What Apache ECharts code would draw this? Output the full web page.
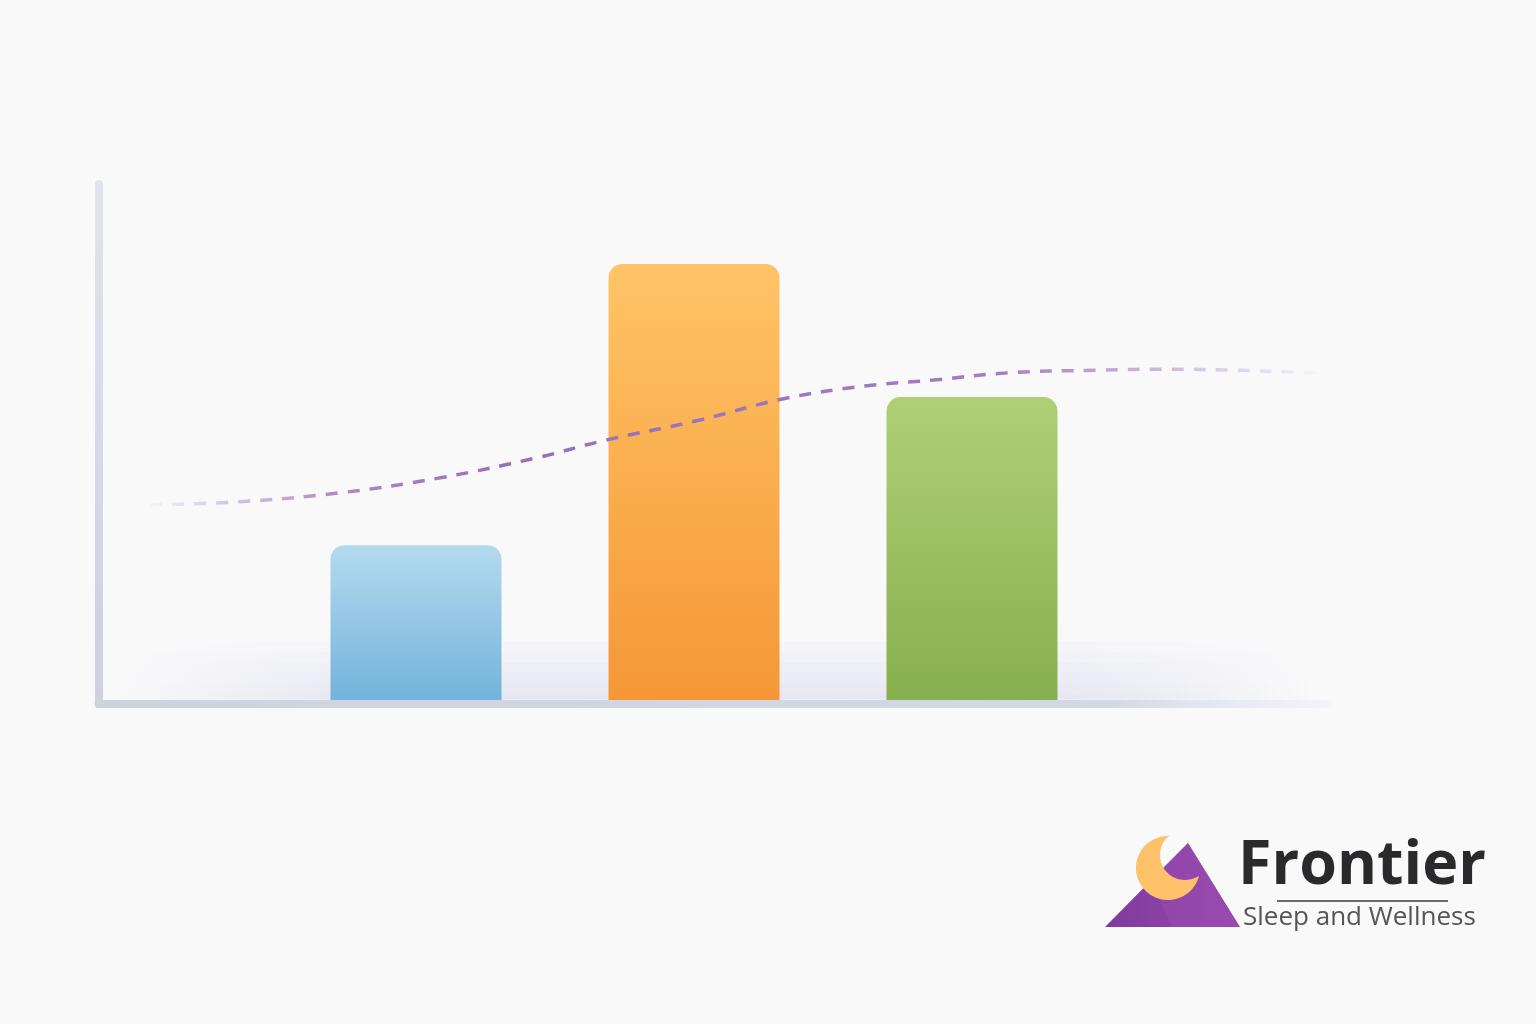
<!DOCTYPE html>
<html>
<head>
<meta charset="utf-8">
<script src="https://cdn.jsdelivr.net/npm/echarts@6/dist/echarts.min.js"></script>
<style>
html,body{margin:0;padding:0;background:#f9f9fa;}
#chart{width:1536px;height:1024px;}
</style>
</head>
<body>
<div id="chart"></div>
<script>
// ---- data ----
const categories = ['A', 'B', 'C'];
const barValues = [30, 84.5, 58.7];
const barTopColors = ['#b3daef', '#ffc466', '#afd074'];
const barBottomColors = ['#74b3db', '#f59737', '#86b04d'];
const trendX = [4.2, 11.5, 19.6, 27.8, 35.9, 41.0, 48.9, 55.7, 62.5, 67.9, 74.1, 81.5, 86.9, 92.3, 97.7, 99.6];
const trendY = [38.3, 38.9, 40.6, 43.5, 47.5, 50.6, 54.6, 58.7, 61.2, 62.3, 63.7, 64.2, 64.4, 64.2, 63.8, 63.7];
const glowTops = [2, 4, 6, 8, 10, 12];
const brandName = 'Frontier';
const brandTagline = 'Sleep and Wellness';

const chart = echarts.init(document.getElementById('chart'));

const barData = barValues.map((v, i) => ({
  value: v,
  itemStyle: {
    color: {
      type: 'linear', x: 0, y: 0, x2: 0, y2: 1,
      colorStops: [{offset: 0, color: barTopColors[i]}, {offset: 1, color: barBottomColors[i]}]
    }
  }
}));
const trendData = trendX.map((x, i) => [x, trendY[i]]);
const glowAreas = glowTops.map(t => [{xAxis: 1, yAxis: 0.8}, {xAxis: 99, yAxis: t}]);

// crescent moon outline for the logo (outer circle minus inner circle)
function crescent() {
  const pts = [];
  const c1 = [1168, 868], r1 = 32, c2 = [1185, 855], r2 = 25;
  const toRad = Math.PI / 180;
  for (let a = 269; a >= 17.5; a -= 4) pts.push([c1[0] + r1 * Math.cos(a * toRad), c1[1] + r1 * Math.sin(a * toRad)]);
  pts.push([c1[0] + r1 * Math.cos(17.5 * toRad), c1[1] + r1 * Math.sin(17.5 * toRad)]);
  for (let a = 56; a <= 232; a += 4) pts.push([c2[0] + r2 * Math.cos(a * toRad), c2[1] + r2 * Math.sin(a * toRad)]);
  return pts;
}

chart.setOption({
  backgroundColor: '#f9f9fa',
  animation: false,
  grid: [
    {left: 98.5, top: 184, right: 208, bottom: 320},
    {left: 277, top: 184, right: 425, bottom: 324}
  ],
  xAxis: [
    {
      gridIndex: 0, type: 'value', min: 0, max: 100,
      axisLine: {show: true, lineStyle: {width: 8, cap: 'round',
        color: {type: 'linear', x: 0, y: 0, x2: 1, y2: 0, colorStops: [
          {offset: 0, color: '#cfd2e0'}, {offset: 0.82, color: '#d4d7e5'}, {offset: 1, color: 'rgba(232,234,243,0.4)'}]}}},
      axisTick: {show: false}, axisLabel: {show: false}, splitLine: {show: false}
    },
    {
      gridIndex: 1, type: 'category', data: categories, boundaryGap: true,
      axisLine: {show: false}, axisTick: {show: false}, axisLabel: {show: false}, splitLine: {show: false}
    }
  ],
  yAxis: [
    {
      gridIndex: 0, type: 'value', min: 0, max: 100,
      axisLine: {show: true, lineStyle: {width: 8, cap: 'round',
        color: {type: 'linear', x: 0, y: 0, x2: 0, y2: 1, colorStops: [
          {offset: 0, color: '#e1e3ee'}, {offset: 1, color: '#ccd0df'}]}}},
      axisTick: {show: false}, axisLabel: {show: false}, splitLine: {show: false}
    },
    {
      gridIndex: 1, type: 'value', min: 0, max: 100,
      axisLine: {show: false}, axisTick: {show: false}, axisLabel: {show: false}, splitLine: {show: false}
    }
  ],
  series: [
    {
      type: 'bar', xAxisIndex: 1, yAxisIndex: 1, data: barData, barWidth: 171,
      itemStyle: {borderRadius: [14, 14, 0, 0]}, z: 3
    },
    {
      type: 'line', xAxisIndex: 0, yAxisIndex: 0, data: trendData, smooth: 0.4,
      symbol: 'none', z: 4,
      lineStyle: {
        width: 3.5, type: [12, 10],
        color: {type: 'linear', x: 0, y: 0, x2: 1, y2: 0, colorStops: [
          {offset: 0, color: 'rgba(155,120,189,0.05)'},
          {offset: 0.16, color: 'rgba(155,120,189,0.85)'},
          {offset: 0.3, color: 'rgba(150,112,186,1)'},
          {offset: 0.72, color: 'rgba(155,120,189,0.95)'},
          {offset: 1, color: 'rgba(155,120,189,0.03)'}]}
      },
      markArea: {
        silent: true,
        itemStyle: {color: {type: 'linear', x: 0, y: 0, x2: 1, y2: 0, colorStops: [
          {offset: 0, color: 'rgba(205,208,232,0)'},
          {offset: 0.2, color: 'rgba(205,208,232,0.09)'},
          {offset: 0.8, color: 'rgba(205,208,232,0.09)'},
          {offset: 1, color: 'rgba(205,208,232,0)'}]}},
        data: glowAreas
      }
    }
  ],
  graphic: [
    {type: 'polygon', z: 10, shape: {points: [[1188, 843], [1105, 927], [1240, 927]]},
      style: {fill: {type: 'linear', x: 0, y: 0, x2: 1, y2: 0, colorStops: [
        {offset: 0, color: '#7f3b9c'}, {offset: 1, color: '#9848ad'}]}}},
    {type: 'polygon', z: 11, shape: {points: [[1150, 880], [1172, 927], [1240, 927], [1188, 843]]},
      style: {fill: 'rgba(160,80,180,0.35)'}},
    {type: 'polygon', z: 12, shape: {points: crescent()}, style: {fill: '#fcc169'}},
    {type: 'text', z: 12, left: 1238, top: 836,
      style: {text: brandName, font: '700 61px "Open Sans", sans-serif', fill: '#2a2a2c'}},
    {type: 'rect', z: 12, shape: {x: 1277, y: 900, width: 171, height: 2}, style: {fill: '#6a6a6e'}},
    {type: 'text', z: 12, left: 1243, top: 905,
      style: {text: brandTagline, font: '400 26px "Open Sans", sans-serif', fill: '#555558'}}
  ]
});
</script>
</body>
</html>
